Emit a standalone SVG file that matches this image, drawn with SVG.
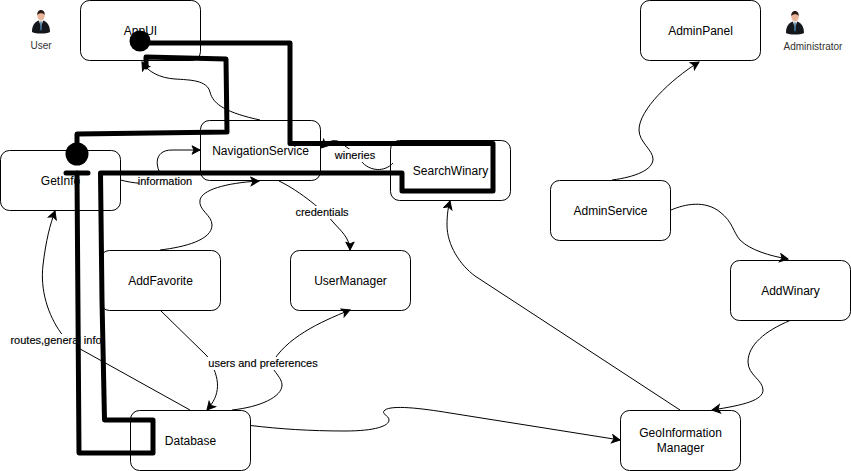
<svg xmlns="http://www.w3.org/2000/svg" width="851" height="471" viewBox="0 0 851 471">
<style>
text{font-family:"Liberation Sans",Arial,sans-serif;fill:#000;text-anchor:middle}
.n rect{fill:#fff;stroke:#000;stroke-width:1}
.n text{font-size:12px}
.c{fill:none;stroke:#000;stroke-width:1}
.l{font-size:11px;stroke:#000;stroke-width:.15}
.lb{fill:#fff}
.t{fill:none;stroke:#000;stroke-width:5;stroke-linejoin:round;stroke-linecap:round}
.a{font-size:10px;fill:#333}
</style>
<defs>
<marker id="arr" markerUnits="userSpaceOnUse" markerWidth="12" markerHeight="12" refX="9" refY="5" orient="auto">
<path d="M1 0.8L9 5L1 9.2L3 5Z" fill="#000" stroke="#000" stroke-width="1"/>
</marker>
<g id="person">
<path d="M0 22C0 15 3 12 6.500 10.500L9 12L11.500 10.500C15 12 18 15 18 22C14 24 4 24 0 22Z" fill="#14181c"/>
<path d="M7 11L9 17L11 11L9 10Z" fill="#dfe8ee"/>
<path d="M8.400 11.500H9.600L10 19L9 21L8 19Z" fill="#3f6f8f"/>
<ellipse cx="9" cy="5.500" rx="3.700" ry="5" fill="#e8b49a"/>
<path d="M5.300 5C5 1.500 7 0 9 0C11 0 13 1.500 12.700 5C11.500 2.500 7 2.500 5.300 5Z" fill="#2a1c14"/>
</g>
</defs>

<g id="user-actor"><use href="#person" x="32" y="10"/><text class="a" x="41" y="49">User</text></g>
<g id="admin-actor"><use href="#person" x="786" y="11"/><text class="a" x="813" y="49.500">Administrator</text></g>

<g id="node-appui" class="n"><rect x="80.500" y="0.500" width="120" height="60" rx="9"/><text x="140.500" y="35">AppUI</text></g>
<g id="node-navigation" class="n"><rect x="200.500" y="120.500" width="120" height="60" rx="9"/><text x="260.500" y="155">NavigationService</text></g>
<g id="node-getinfo" class="n"><rect x="0.500" y="150.500" width="120" height="60" rx="9"/><text x="60.500" y="185">GetInfo</text></g>
<g id="node-search" class="n"><rect x="390.500" y="140.500" width="120" height="60" rx="9"/><text x="450.500" y="175">SearchWinary</text></g>
<g id="node-adminpanel" class="n"><rect x="640.500" y="0.500" width="120" height="60" rx="9"/><text x="700.500" y="35">AdminPanel</text></g>
<g id="node-adminservice" class="n"><rect x="550.500" y="180.500" width="120" height="60" rx="9"/><text x="610.500" y="215">AdminService</text></g>
<g id="node-addwinary" class="n"><rect x="730.500" y="260.500" width="120" height="60" rx="9"/><text x="790.500" y="295">AddWinary</text></g>
<g id="node-addfavorite" class="n"><rect x="100.500" y="250.500" width="120" height="60" rx="9"/><text x="160.500" y="285">AddFavorite</text></g>
<g id="node-usermanager" class="n"><rect x="290.500" y="250.500" width="120" height="60" rx="9"/><text x="350.500" y="285">UserManager</text></g>
<g id="node-database" class="n"><rect x="130.500" y="410.500" width="120" height="60" rx="9"/><text x="190.500" y="445">Database</text></g>
<g id="node-geo" class="n"><rect x="620.500" y="410.500" width="120" height="60" rx="9"/><text x="680.500" y="437">GeoInformation</text><text x="680.500" y="452">Manager</text></g>

<g id="connectors">
<path class="c" marker-end="url(#arr)" d="M260 120C228 113 213 105 210 92C207 80 190 80 175 79C160 78 148 72 142 62"/>
<path class="c" marker-end="url(#arr)" d="M120.500 180C132 183 150 186 165 180C155 170 152 150 172 150L200 150"/>
<path class="c" marker-end="url(#arr)" d="M160 250C185 247 212 240 212 225C212 215 198 210 200 200C202 190 225 183 259 181"/>
<path class="c" marker-end="url(#arr)" d="M279 181C300 191 325 212 333 222C340 230 350 238 350 250"/>
<path class="c" marker-end="url(#arr)" d="M393 163C385 172 370 172 361 161C355 155 352 150 345 146C338 139 331 138 321 148"/>
<path class="c" marker-end="url(#arr)" d="M190 410L82 350C70 344 65 338 61 333C48 315 40 290 43 265C46 240 50 225 55 211"/>
<path class="c" marker-end="url(#arr)" d="M160 310L207 356C222 380 220 395 207 410"/>
<path class="c" marker-end="url(#arr)" d="M232 410C260 407 282 397 282 385C282 378 274 372 271 365C285 338 320 322 350 310"/>
<path class="c" marker-end="url(#arr)" d="M250.500 425.500C280 429 310 431 345 431C375 431 389 426 389 420C389 415 380 414 385 410C392 405 420 408 450 413L620 440"/>
<path class="c" marker-end="url(#arr)" d="M680 410L475 276C460 265 447 245 447 225C447 215 448 208 450 201"/>
<path class="c" marker-end="url(#arr)" d="M790 320.500C765 331 748 345 748 362C748 375 763 380 763 390C763 400 745 405 712 410"/>
<path class="c" marker-end="url(#arr)" d="M671 210C685 204 705 200 720 212C733 222 733 232 740 240C750 250 770 256 788 259"/>
<path class="c" marker-end="url(#arr)" d="M612 180C635 177 653 170 653 159C653 150 639 142 639 130C639 110 670 80 699 62"/>
<g id="labels">
<rect class="lb" x="139" y="175" width="53" height="13"/><text class="l" x="165" y="185">information</text>
<rect class="lb" x="334" y="149" width="42" height="13"/><text class="l" x="355" y="159">wineries</text>
<rect class="lb" x="295" y="206" width="54" height="13"/><text class="l" x="322" y="216">credentials</text>
<rect class="lb" x="10" y="334" width="93" height="13"/><text class="l" x="56" y="344">routes,general info</text>
<rect class="lb" x="207" y="357" width="112" height="13"/><text class="l" x="263" y="367">users and preferences</text>
</g>
</g>

<g id="overdraw">
<circle cx="140" cy="41" r="10.500"/>
<circle cx="77" cy="154" r="11.500"/>
<path class="t" d="M140 43H290V143.500H493V191H402V173H100.500L102 300L104.500 420H153V453H79L77 173"/>
<path class="t" d="M66 173H88"/>
<path class="t" d="M77 154V134L227 132L226 59L146 57V67"/>
</g>
</svg>
